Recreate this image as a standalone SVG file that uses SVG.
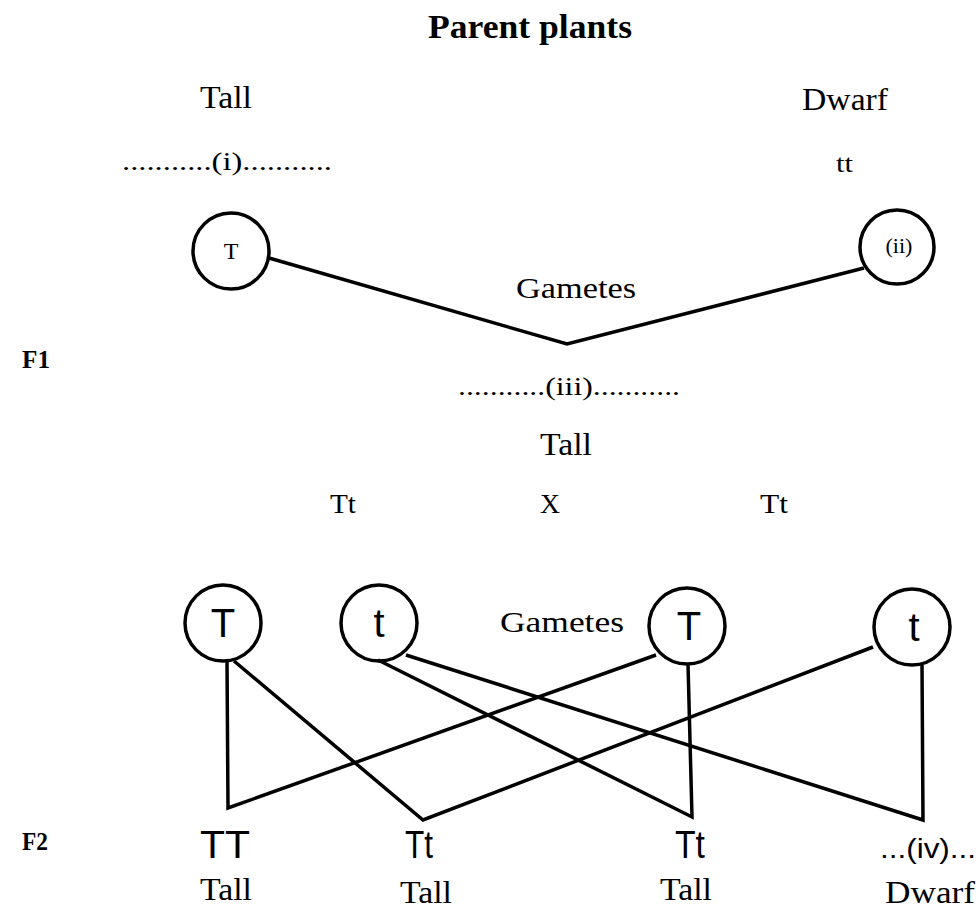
<svg xmlns="http://www.w3.org/2000/svg" width="980" height="910" viewBox="0 0 980 910">
<style>
.s{font-family:"Liberation Serif","Times New Roman",serif;fill:#000}
.ss{font-family:"Liberation Sans",Arial,sans-serif;fill:#000}
.c{fill:none;stroke:#000;stroke-width:3.5}
.l{fill:none;stroke:#000;stroke-width:3.5;stroke-linejoin:miter}
</style>
<rect width="980" height="910" fill="#fff"/>
<g id="labels">
<text class="s" x="428" y="38" font-size="34" font-weight="bold" textLength="204" lengthAdjust="spacingAndGlyphs">Parent plants</text>
<text class="s" x="200" y="108" font-size="32" textLength="52" lengthAdjust="spacingAndGlyphs">Tall</text>
<text class="s" x="122" y="170" font-size="26" textLength="210" lengthAdjust="spacingAndGlyphs">...........(i)...........</text>
<text class="s" x="802" y="110" font-size="32" textLength="86" lengthAdjust="spacingAndGlyphs">Dwarf</text>
<text class="s" x="836" y="172" font-size="26" textLength="17" lengthAdjust="spacingAndGlyphs">tt</text>
<text class="s" x="516" y="298" font-size="30" textLength="120" lengthAdjust="spacingAndGlyphs">Gametes</text>
<text class="s" x="22" y="368" font-size="26" font-weight="bold" textLength="28" lengthAdjust="spacingAndGlyphs">F1</text>
<text class="s" x="458" y="395" font-size="26" textLength="222" lengthAdjust="spacingAndGlyphs">...........(iii)...........</text>
<text class="s" x="540" y="455" font-size="32" textLength="52" lengthAdjust="spacingAndGlyphs">Tall</text>
<text class="s" x="330" y="513" font-size="28" textLength="26" lengthAdjust="spacingAndGlyphs">Tt</text>
<text class="s" x="540" y="513" font-size="28" textLength="20" lengthAdjust="spacingAndGlyphs">X</text>
<text class="s" x="760" y="513" font-size="28" textLength="28" lengthAdjust="spacingAndGlyphs">Tt</text>
<text class="s" x="500" y="632" font-size="30" textLength="124" lengthAdjust="spacingAndGlyphs">Gametes</text>
<text class="s" x="22" y="850" font-size="26" font-weight="bold" textLength="26" lengthAdjust="spacingAndGlyphs">F2</text>
<text class="ss" x="200" y="858" font-size="38" textLength="50" lengthAdjust="spacingAndGlyphs">TT</text>
<text class="ss" x="405" y="858" font-size="38" textLength="28" lengthAdjust="spacingAndGlyphs">Tt</text>
<text class="ss" x="675" y="858" font-size="38" textLength="30" lengthAdjust="spacingAndGlyphs">Tt</text>
<text class="ss" x="880" y="858" font-size="28" textLength="96" lengthAdjust="spacingAndGlyphs">...(iv)...</text>
<text class="s" x="200" y="900" font-size="32" textLength="52" lengthAdjust="spacingAndGlyphs">Tall</text>
<text class="s" x="400" y="903" font-size="32" textLength="52" lengthAdjust="spacingAndGlyphs">Tall</text>
<text class="s" x="660" y="900" font-size="32" textLength="52" lengthAdjust="spacingAndGlyphs">Tall</text>
<text class="s" x="885" y="903" font-size="32" textLength="90" lengthAdjust="spacingAndGlyphs">Dwarf</text>
</g>
<g id="p1"><circle class="c" cx="231" cy="251" r="38"/><text class="s" x="231" y="259" font-size="24" text-anchor="middle">T</text></g>
<g id="p2"><circle class="c" cx="897" cy="247" r="37"/><text class="s" x="899" y="253" font-size="22" text-anchor="middle">(ii)</text></g>
<g id="g1"><circle class="c" cx="223" cy="623" r="38"/><text class="ss" x="223" y="637" font-size="40" text-anchor="middle">T</text></g>
<g id="g2"><circle class="c" cx="379" cy="623" r="38"/><text class="ss" x="379" y="637" font-size="40" text-anchor="middle">t</text></g>
<g id="g3"><circle class="c" cx="687" cy="626" r="38"/><text class="ss" x="689" y="640" font-size="40" text-anchor="middle">T</text></g>
<g id="g4"><circle class="c" cx="912" cy="627" r="38"/><text class="ss" x="914" y="641" font-size="40" text-anchor="middle">t</text></g>
<g id="connectors">
<polyline class="l" points="269,258 567,344 864,268"/>
<polyline class="l" points="227,661 228,808 656,655"/>
<polyline class="l" points="234,661 423,820 873,647"/>
<polyline class="l" points="378,660 692,817 688,664"/>
<polyline class="l" points="406,655 923,820 922,665"/>
</g>
</svg>
